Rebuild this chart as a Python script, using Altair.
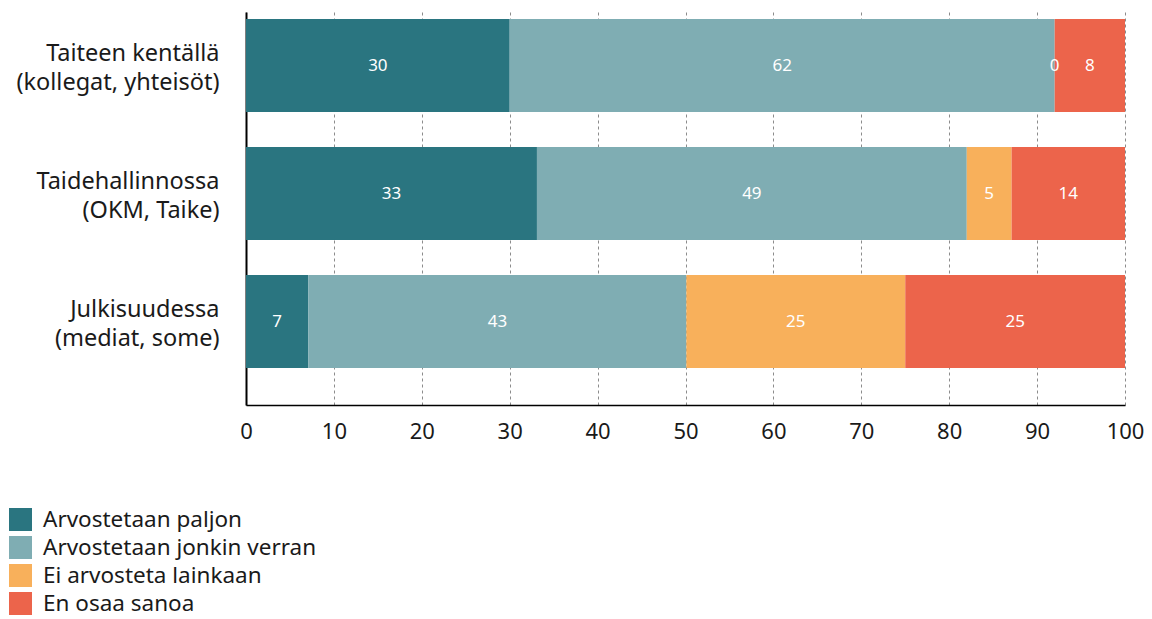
import altair as alt
import pandas as pd

categories = ["Taiteen kentällä|(kollegat, yhteisöt)",
              "Taidehallinnossa|(OKM, Taike)",
              "Julkisuudessa|(mediat, some)"]
series = ["Arvostetaan paljon", "Arvostetaan jonkin verran",
          "Ei arvosteta lainkaan", "En osaa sanoa"]
colors = ["#2a7580", "#7fadb3", "#f8b05b", "#ec644b"]
values = [
    [30.0, 62.0, 0.0, 8.0],
    [33.1, 48.9, 5.1, 12.9],
    [7.1, 43.0, 24.9, 25.0],
]
labels = [
    ["30", "62", "0", "8"],
    ["33", "49", "5", "14"],
    ["7", "43", "25", "25"],
]

rows = []
for ci, c in enumerate(categories):
    for si, s in enumerate(series):
        rows.append({"cat": c, "series": s, "order": si,
                     "value": values[ci][si], "label": labels[ci][si]})
df = pd.DataFrame(rows)

FONT = "Noto Sans"
TXT = "#1a1a1a"

base = alt.Chart(df).transform_stack(
    stack="value", groupby=["cat"], as_=["x0", "x1"],
    sort=[alt.SortField("order")]
).transform_calculate(mid="(datum.x0 + datum.x1) / 2")

y_enc = alt.Y("cat:N", sort=categories, title=None,
              scale=alt.Scale(paddingInner=0.273, paddingOuter=0.172, align=0.16),
              axis=alt.Axis(labelExpr="split(datum.value, '|')", labelFontSize=23.5,
                            labelLineHeight=29, labelPadding=27, labelOffset=-12,
                            ticks=False,
                            domain=True, domainColor="#000000", domainWidth=2,
                            labelColor=TXT, labelFont=FONT, grid=False,
                            labelLimit=400))

bars = base.mark_bar().encode(
    x=alt.X("x0:Q", title=None,
            scale=alt.Scale(domain=[0, 100], nice=False),
            axis=alt.Axis(values=list(range(0, 101, 10)), grid=True,
                          gridDash=[3, 3], gridColor="#8c8c8c", gridWidth=1,
                          ticks=False, domain=True, domainColor="#000000",
                          domainWidth=1.5, labelFontSize=22, labelPadding=16,
                          labelColor=TXT, labelFont=FONT, labelFlush=False)),
    x2="x1:Q",
    y=y_enc,
    color=alt.Color("series:N", sort=series,
                    scale=alt.Scale(domain=series, range=colors),
                    legend=alt.Legend(title=None, orient="none", legendX=-237,
                                      legendY=496, symbolType="square",
                                      symbolSize=529, symbolStrokeWidth=0,
                                      labelFontSize=22.5, labelFont=FONT,
                                      labelColor=TXT, labelOffset=11,
                                      rowPadding=5, symbolOpacity=1,
                                      labelLimit=500)),
    order=alt.Order("order:Q"),
)

text = base.mark_text(color="white", fontSize=17, font=FONT).encode(
    x="mid:Q",
    y=alt.Y("cat:N", sort=categories),
    text="label:N",
)

chart = alt.layer(bars, text).properties(
    width=879, height=393,
    autosize=alt.AutoSizeParams(type="none"),
    padding={"left": 238, "top": 4, "right": 19, "bottom": 214},
).configure_view(stroke=None)

chart.save("out.html", embed_options={"renderer": "svg", "actions": False})
